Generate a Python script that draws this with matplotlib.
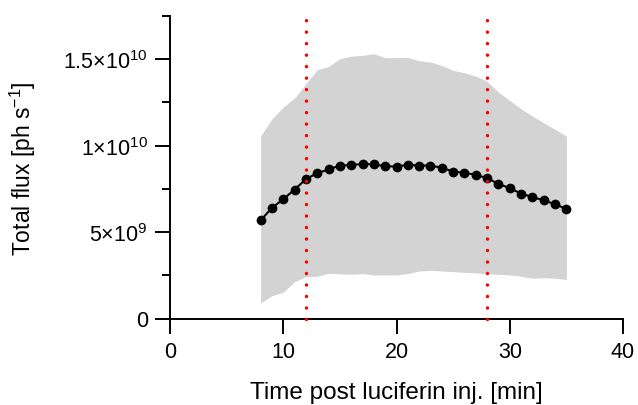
import matplotlib
matplotlib.use("Agg")
import matplotlib.pyplot as plt
from matplotlib.ticker import FixedLocator, MultipleLocator

plt.rcParams['font.family'] = ['Liberation Sans', 'DejaVu Sans']
plt.rcParams['mathtext.fontset'] = 'custom'
plt.rcParams['mathtext.rm'] = 'Liberation Sans'
plt.rcParams['mathtext.it'] = 'Liberation Sans:italic'
plt.rcParams['mathtext.bf'] = 'Liberation Sans:bold'

# Time after luciferin injection (min)
time_min = list(range(8, 36))

# Mean total flux (photons/s)
mean_flux = [5.67e9, 6.40e9, 6.90e9, 7.46e9, 8.06e9, 8.41e9, 8.62e9, 8.85e9,
             8.87e9, 8.95e9, 8.91e9, 8.81e9, 8.79e9, 8.89e9, 8.85e9, 8.85e9,
             8.72e9, 8.50e9, 8.43e9, 8.31e9, 8.12e9, 7.79e9, 7.54e9, 7.23e9,
             7.02e9, 6.84e9, 6.61e9, 6.34e9]

# Upper and lower limits of the spread
flux_upper = [1.055e10, 1.155e10, 1.223e10, 1.275e10, 1.358e10, 1.439e10, 1.458e10,
              1.503e10, 1.518e10, 1.522e10, 1.532e10, 1.509e10, 1.509e10, 1.511e10,
              1.491e10, 1.484e10, 1.464e10, 1.435e10, 1.422e10, 1.402e10, 1.372e10,
              1.310e10, 1.262e10, 1.213e10, 1.171e10, 1.132e10, 1.094e10, 1.055e10]
flux_lower = [0.90e9, 1.32e9, 1.52e9, 2.13e9, 2.42e9, 2.44e9, 2.62e9, 2.58e9,
              2.56e9, 2.60e9, 2.52e9, 2.52e9, 2.52e9, 2.60e9, 2.75e9, 2.79e9,
              2.75e9, 2.71e9, 2.67e9, 2.64e9, 2.58e9, 2.56e9, 2.52e9, 2.44e9,
              2.33e9, 2.36e9, 2.33e9, 2.25e9]

# Imaging window boundaries (min)
window_bounds = [12, 28]

x_ticks = [0, 10, 20, 30, 40]
y_ticks = [0, 5e9, 1e10, 1.5e10]
y_tick_labels = ['0', r'5$\times$10$^{9}$', r'1$\times$10$^{10}$', r'1.5$\times$10$^{10}$']

W, H = 638, 406
fig = plt.figure(figsize=(W / 100, H / 100), dpi=100)
ax = fig.add_axes([170 / W, (H - 319.5) / H, (623 - 170) / W, (319.5 - 17) / H])

ax.fill_between(time_min, flux_lower, flux_upper, color='#d3d3d3', linewidth=0, zorder=1)
ax.plot(time_min, mean_flux, color='black', linewidth=1.5, marker='o',
        markersize=6, zorder=3)
for xb in window_bounds:
    ax.plot([xb, xb], [0, 1.75e10], color='#ff0000', linewidth=2.5,
            dashes=(0.01, 3.3), dash_capstyle='round', zorder=4, clip_on=False)

ax.set_xlim(0, 40)
ax.set_ylim(0, 1.75e10)
ax.xaxis.set_major_locator(FixedLocator(x_ticks))
ax.set_xticklabels([str(v) for v in x_ticks])
ax.yaxis.set_major_locator(FixedLocator(y_ticks))
ax.set_yticklabels(y_tick_labels)
ax.yaxis.set_minor_locator(MultipleLocator(2.5e9))

for side in ('top', 'right'):
    ax.spines[side].set_visible(False)
for side in ('left', 'bottom'):
    ax.spines[side].set_linewidth(1.4)

ax.tick_params(axis='both', which='major', direction='out', length=11, width=1.4,
               labelsize=15.5, pad=5, colors='black')
ax.tick_params(axis='y', which='minor', direction='out', length=6, width=1.4)

ax.set_xlabel('Time post luciferin inj. [min]', fontsize=17.5)
ax.set_ylabel(r'Total flux [ph s$^{-1}$]', fontsize=16.5)
ax.xaxis.set_label_coords(0.5, -0.208)
ax.yaxis.set_label_coords(-0.292, 0.5)

fig.savefig('out.png', dpi=100)
